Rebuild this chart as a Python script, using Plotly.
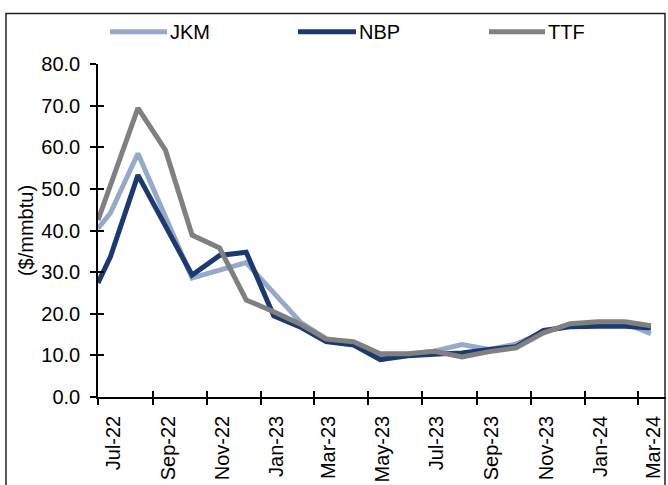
import plotly.graph_objects as go

# Monthly gas hub prices ($/mmbtu); first value is the start-of-July print
dates = ["2022-07-01", "2022-07-15", "2022-08-15", "2022-09-15", "2022-10-15",
         "2022-11-15", "2022-12-15", "2023-01-15", "2023-02-15", "2023-03-15",
         "2023-04-15", "2023-05-15", "2023-06-15", "2023-07-15", "2023-08-15",
         "2023-09-15", "2023-10-15", "2023-11-15", "2023-12-15", "2024-01-15",
         "2024-02-15", "2024-03-15"]

jkm = [40.5, 44.2, 58.5, 43.0, 28.6, 30.5, 32.3, 25.0, 17.8, 14.0, 13.0,
       10.0, 10.3, 11.0, 12.6, 11.4, 12.7, 15.6, 17.3, 17.9, 17.7, 15.2]
nbp = [27.4, 33.7, 53.3, 41.0, 29.3, 34.0, 34.8, 19.5, 16.7, 13.3, 12.5,
       9.0, 9.9, 10.3, 10.6, 11.4, 12.1, 16.0, 16.9, 17.0, 17.0, 16.6]
ttf = [42.5, 50.9, 69.4, 59.3, 38.9, 35.8, 23.3, 20.5, 17.4, 13.9, 13.3,
       10.4, 10.4, 11.0, 9.6, 10.9, 11.8, 15.4, 17.6, 18.1, 18.1, 17.1]

series = [("JKM", jkm, "#97A9C9"), ("NBP", nbp, "#1C3A6F"), ("TTF", ttf, "#808080")]

W, H = 668, 485
ML, MR, MT, MB = 98, 2, 64, 88
PW, PH = W - ML - MR, H - MT - MB
FONT = "Liberation Sans, Arial, sans-serif"


def px_x(px):
    return (px - ML) / PW


def px_y(py):
    return (H - MB - py) / PH


fig = go.Figure()
for name, vals, col in series:
    fig.add_trace(go.Scatter(x=dates, y=vals, name=name, mode="lines",
                             line=dict(color=col, width=5), showlegend=False))

# empty trace so the overlay axes (inner half of the cross ticks) are drawn
fig.add_trace(go.Scatter(x=[None], y=[None], xaxis="x2", yaxis="y2",
                         showlegend=False, hoverinfo="skip"))

xr = ["2022-07-01", "2024-04-01"]
yr = [0, 80]

fig.update_layout(
    width=W, height=H,
    margin=dict(l=ML, r=MR, t=MT, b=MB),
    paper_bgcolor="white", plot_bgcolor="white",
    font=dict(family=FONT, size=20, color="black"),
    xaxis=dict(type="date", range=xr, tick0="2022-07-01", dtick="M2",
               tickformat="%b-%y", tickangle=-90, showgrid=False,
               showline=True, linecolor="black", linewidth=1.5,
               ticks="outside", ticklen=6, tickwidth=1.5, tickcolor="black",
               ticklabelshift=15, ticklabelstandoff=3, automargin=False,
               tickfont=dict(size=20), zeroline=False),
    yaxis=dict(range=yr, dtick=10, tickformat=".1f", showgrid=False,
               showline=True, linecolor="black", linewidth=1.5,
               ticks="outside", ticklen=6, tickwidth=1.5, tickcolor="black",
               ticklabelstandoff=6, zeroline=False, automargin=False,
               title=dict(text="($/mmbtu)", standoff=2, font=dict(size=20))),
    xaxis2=dict(type="date", range=xr, tick0="2022-07-01", dtick="M2",
                overlaying="x", anchor="y", ticks="inside", ticklen=6,
                tickwidth=1.5, tickcolor="black", showticklabels=False,
                showgrid=False, showline=False, zeroline=False),
    yaxis2=dict(range=yr, dtick=10, overlaying="y", anchor="x",
                ticks="inside", ticklen=6, tickwidth=1.5, tickcolor="black",
                showticklabels=False, showgrid=False, showline=False,
                zeroline=False),
)

# chart frame
fig.add_shape(type="rect", xref="paper", yref="paper",
              x0=px_x(6), x1=px_x(665), y0=px_y(520), y1=px_y(13.5),
              line=dict(color="#222222", width=1.5), layer="below")

# legend row
legend_items = [("JKM", 110, 167), ("NBP", 298, 356), ("TTF", 489, 545)]
for (name, x0, x1), (_, _, col) in zip(legend_items, series):
    fig.add_shape(type="line", xref="paper", yref="paper",
                  x0=px_x(x0), x1=px_x(x1), y0=px_y(31.7), y1=px_y(31.7),
                  line=dict(color=col, width=5))
    fig.add_annotation(x=px_x(x1 + 1), y=px_y(31.7), xref="paper", yref="paper",
                       text=name, showarrow=False, xanchor="left",
                       yanchor="middle", font=dict(size=20, color="black"))

fig.write_html("out.html")
